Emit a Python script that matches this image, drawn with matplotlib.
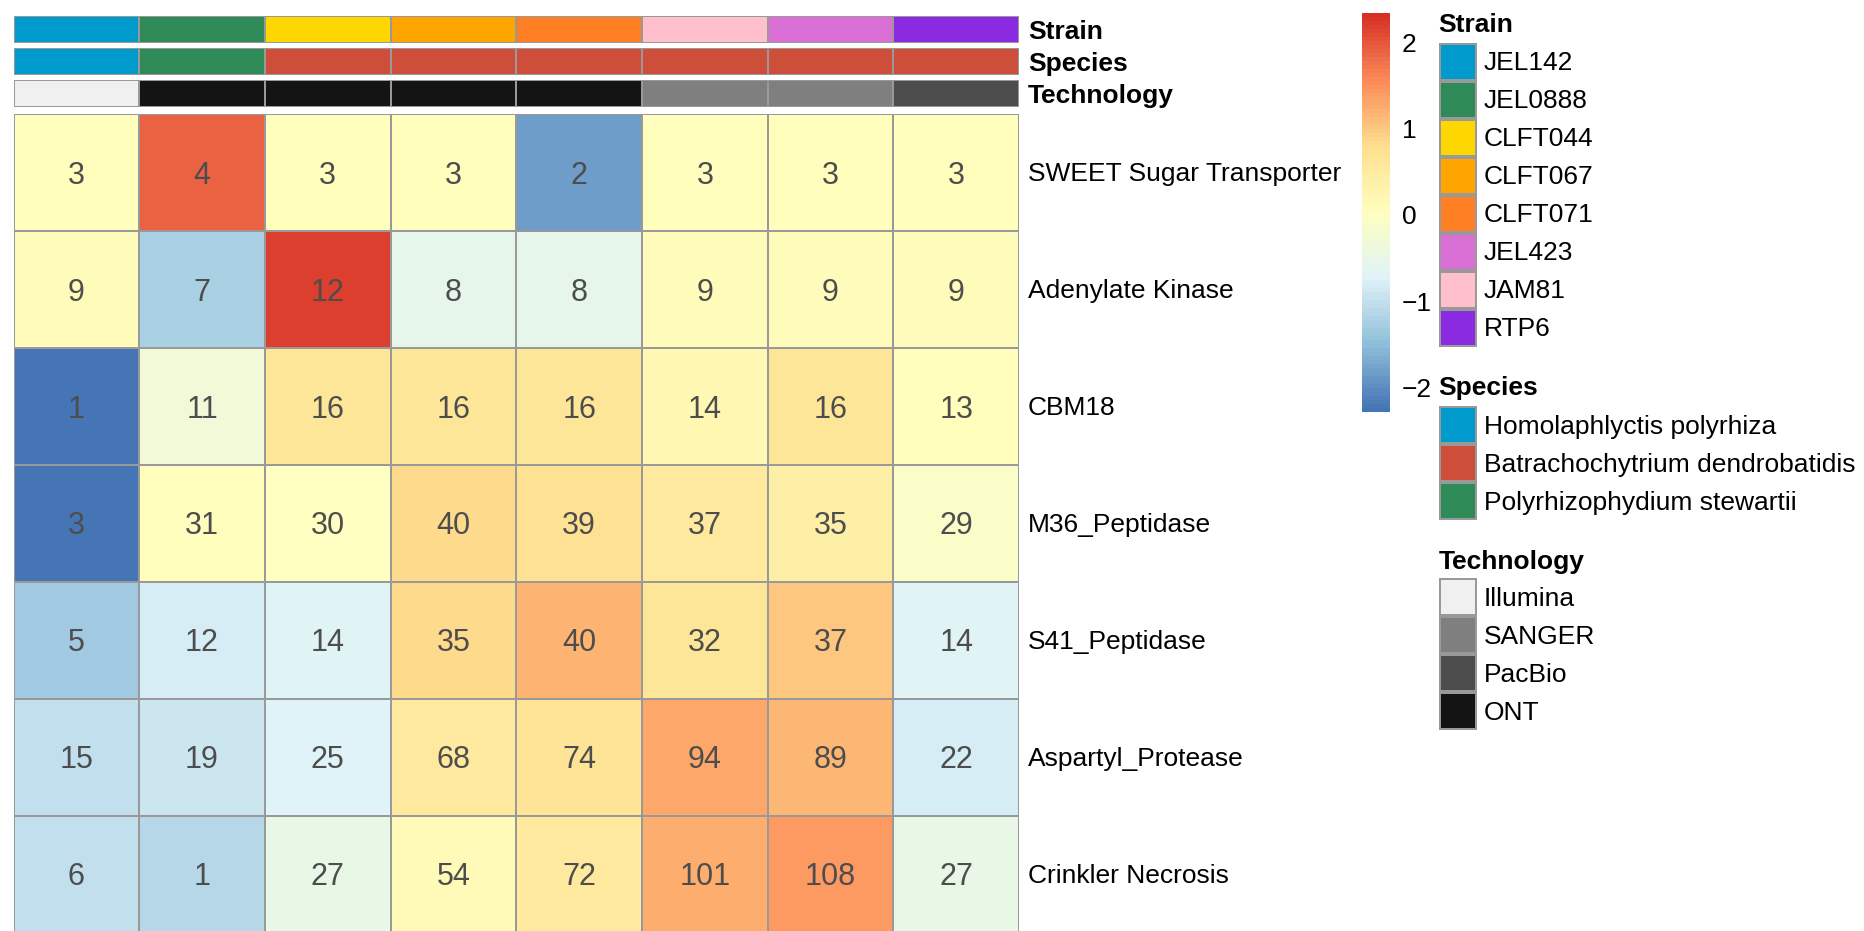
import numpy as np
import matplotlib
matplotlib.use("Agg")
import matplotlib.pyplot as plt
from matplotlib.colors import LinearSegmentedColormap, ListedColormap, Normalize, BoundaryNorm
from matplotlib.transforms import ScaledTranslation

plt.rcParams['font.family'] = ['Liberation Sans', 'DejaVu Sans']

# ---- data -------------------------------------------------------------
strains = ["JEL142", "JEL0888", "CLFT044", "CLFT067", "CLFT071", "JAM81", "JEL423", "RTP6"]
species = ["Homolaphlyctis polyrhiza", "Polyrhizophydium stewartii",
           "Batrachochytrium dendrobatidis", "Batrachochytrium dendrobatidis",
           "Batrachochytrium dendrobatidis", "Batrachochytrium dendrobatidis",
           "Batrachochytrium dendrobatidis", "Batrachochytrium dendrobatidis"]
technology = ["Illumina", "ONT", "ONT", "ONT", "ONT", "SANGER", "SANGER", "PacBio"]

families = ["SWEET Sugar Transporter", "Adenylate Kinase", "CBM18", "M36_Peptidase",
            "S41_Peptidase", "Aspartyl_Protease", "Crinkler Necrosis"]

counts = np.array([
    [3, 4, 3, 3, 2, 3, 3, 3],
    [9, 7, 12, 8, 8, 9, 9, 9],
    [1, 11, 16, 16, 16, 14, 16, 13],
    [3, 31, 30, 40, 39, 37, 35, 29],
    [5, 12, 14, 35, 40, 32, 37, 14],
    [15, 19, 25, 68, 74, 94, 89, 22],
    [6, 1, 27, 54, 72, 101, 108, 27],
], dtype=float)

# legend order and colours of the annotation tracks
strain_levels = ["JEL142", "JEL0888", "CLFT044", "CLFT067", "CLFT071", "JEL423", "JAM81", "RTP6"]
strain_colors = ["#009ACD", "#2E8B57", "#FFD700", "#FFA500", "#FF7F24", "#DA70D6", "#FFC0CB", "#8A2BE2"]
species_levels = ["Homolaphlyctis polyrhiza", "Batrachochytrium dendrobatidis", "Polyrhizophydium stewartii"]
species_colors = ["#009ACD", "#CD4F39", "#2E8B57"]
tech_levels = ["Illumina", "SANGER", "PacBio", "ONT"]
tech_colors = ["#F0F0F0", "#7F7F7F", "#4D4D4D", "#141414"]

# ---- styling ----------------------------------------------------------
BORDER = "#999999"
NUM_COLOR = "#4D4D4D"
FS = 19
FS_NUM = 22

W, H = 1864, 931
DPI = 100
fig = plt.figure(figsize=(W / DPI, H / DPI), dpi=DPI)


def add_ax(left, top, width, height):
    return fig.add_axes([left / W, 1 - (top + height) / H, width / W, height / H])


def px_offset(dx_px, dy_px):
    """Pixel offset (y positive = down) as a transform."""
    return ScaledTranslation(dx_px / DPI, -dy_px / DPI, fig.dpi_scale_trans)


def shifted(ax, dx_px, dy_px):
    return ax.transData + px_offset(dx_px, dy_px)


# row-wise z-scores, symmetric colour range
z = (counts - counts.mean(axis=1, keepdims=True)) / counts.std(axis=1, ddof=1, keepdims=True)
zmax = np.abs(z).max()
rdylbu = ["#4575B4", "#91BFDB", "#E0F3F8", "#FFFFBF", "#FEE090", "#FC8D59", "#D73027"]
cmap = ListedColormap(LinearSegmentedColormap.from_list("rb", rdylbu)(np.linspace(0, 1, 100)))
norm = Normalize(-zmax, zmax)

n_rows, n_cols = counts.shape
cell_w, cell_h = 125.7, 116.9
hm_left, hm_top = 13.5, 114.3

# ---- heatmap ----------------------------------------------------------
ax = add_ax(hm_left, hm_top, cell_w * n_cols, cell_h * n_rows)
ax.pcolormesh(np.arange(n_cols + 1), np.arange(n_rows + 1), z, cmap=cmap, norm=norm,
              edgecolors=BORDER, linewidth=1.2)
ax.set_xlim(0, n_cols)
ax.set_ylim(n_rows, 0)
ax.axis("off")
num_tr = shifted(ax, 0, 11)
lab_tr = shifted(ax, 9, 8.5)
for i in range(n_rows):
    for j in range(n_cols):
        ax.text(j + 0.5, i + 0.5, f"{int(counts[i, j])}", ha="center", va="baseline",
                fontsize=FS_NUM, color=NUM_COLOR, transform=num_tr)
    ax.text(n_cols, i + 0.5, families[i], ha="left", va="baseline", fontsize=FS,
            transform=lab_tr, clip_on=False)

# ---- column annotation tracks ------------------------------------------
tracks = [("Strain", strains, strain_levels, strain_colors, 15.7),
          ("Species", species, species_levels, species_colors, 47.7),
          ("Technology", technology, tech_levels, tech_colors, 79.7)]
for title, values, levels, colors, top in tracks:
    a = add_ax(hm_left, top, cell_w * n_cols, 27)
    codes = np.array([[levels.index(v) for v in values]])
    a.pcolormesh(np.arange(n_cols + 1), [0, 1], codes, cmap=ListedColormap(colors),
                 norm=BoundaryNorm(np.arange(len(levels) + 1) - 0.5, len(levels)),
                 edgecolors=BORDER, linewidth=1.2)
    a.set_xlim(0, n_cols)
    a.set_ylim(1, 0)
    a.axis("off")
    a.text(n_cols, 0.5, title, ha="left", va="baseline", fontsize=FS,
           fontweight="bold", clip_on=False, transform=shifted(a, 9, 9.5))

# ---- colour scale -----------------------------------------------------
cax = add_ax(1362, 13, 27, 399)
grad = np.linspace(-zmax, zmax, 100).reshape(-1, 1)
cax.imshow(grad, cmap=cmap, norm=norm, aspect="auto", origin="lower",
           extent=[0, 1, -zmax, zmax], interpolation="nearest")
cax.set_xlim(0, 1)
cax.set_ylim(-zmax, zmax)
cax.set_xticks([])
ticks = [-2, -1, 0, 1, 2]
cax.yaxis.tick_right()
cax.set_yticks(ticks)
cax.set_yticklabels([str(t).replace("-", "\u2212") for t in ticks], fontsize=FS)
cax.tick_params(axis="y", length=0, pad=9)
for lbl in cax.get_yticklabels():
    lbl.set_transform(lbl.get_transform() + px_offset(0, 2.5))
for s in cax.spines.values():
    s.set_visible(False)

# ---- categorical legends ----------------------------------------------
legends = [("Strain", strain_levels, strain_colors, 42.5, 32),
           ("Species", species_levels, species_colors, 405.7, 395),
           ("Technology", tech_levels, tech_colors, 578.3, 569)]
box = 38
for title, levels, colors, top, title_base in legends:
    n = len(levels)
    la = add_ax(1438.5, top, box, box * n)
    la.pcolormesh([0, 1], np.arange(n + 1), np.arange(n).reshape(-1, 1),
                  cmap=ListedColormap(colors),
                  norm=BoundaryNorm(np.arange(n + 1) - 0.5, n),
                  edgecolors=BORDER, linewidth=1.5)
    la.set_xlim(0, 1)
    la.set_ylim(n, 0)
    la.axis("off")
    item_tr = shifted(la, 7, 9)
    for k, lab in enumerate(levels):
        la.text(1, k + 0.5, lab, ha="left", va="baseline", fontsize=FS,
                clip_on=False, transform=item_tr)
    la.text(0, -(top - title_base) / box, title, ha="left", va="baseline", fontsize=FS,
            fontweight="bold", clip_on=False)

fig.savefig("out.png", dpi=DPI)
